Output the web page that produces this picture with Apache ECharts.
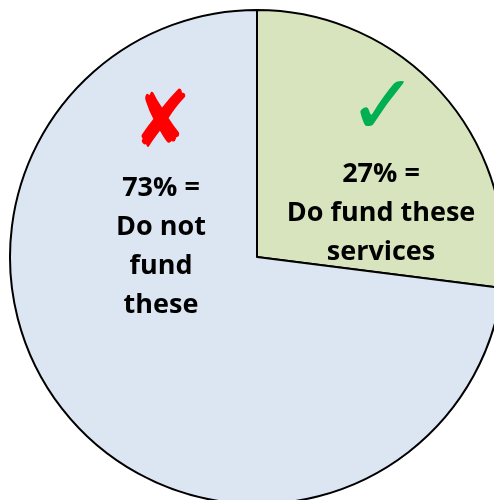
<!DOCTYPE html>
<html>
<head>
<meta charset="utf-8">
<script src="https://cdn.jsdelivr.net/npm/echarts@6/dist/echarts.min.js"></script>
<style>
  html, body { margin: 0; padding: 0; background: #fff; }
  #chart { width: 494px; height: 500px; }
</style>
</head>
<body>
<div id="chart"></div>
<script>
// dados da pizza
const categorias = ["Do fund these services", "Do not fund these"];
const valores = [27, 73];
const cores = ["#D7E4BD", "#DCE5F2"];
const rotulos = ["27% =\nDo fund these\nservices", "73% =\nDo not\nfund\nthese"];
const simbolos = ["\u2713", "\u2718"];

const chart = echarts.init(document.getElementById("chart"));

const fonte = "'Open Sans', 'Liberation Sans', sans-serif";

function texto(x, y, txt, font, cor, lh, sx, sy) {
  return {
    type: "text", x: x, y: y, z: 100,
    scaleX: sx || 1, scaleY: sy || 1,
    style: {
      text: txt, align: "center", verticalAlign: "middle",
      font: font, lineHeight: lh || undefined, fill: cor
    }
  };
}

const option = {
  animation: false,
  backgroundColor: "#ffffff",
  series: [{
    type: "pie",
    center: [257, 257],
    radius: 247,
    startAngle: 90,
    clockwise: true,
    label: { show: false },
    labelLine: { show: false },
    itemStyle: { borderColor: "#000", borderWidth: 2 },
    data: categorias.map((c, i) => ({
      name: c,
      value: valores[i],
      itemStyle: { color: cores[i] }
    }))
  }],
  graphic: {
    elements: [
      texto(381, 213, rotulos[0], "bold 27px " + fonte, "#000", 39),
      texto(161, 247, rotulos[1], "bold 27px " + fonte, "#000", 39),
      texto(383, 112, simbolos[0], "bold 84px 'DejaVu Sans'", "#00B050"),
      texto(162, 126, simbolos[1], "66px 'DejaVu Sans'", "#FF0000", 0, 1.05, 1.2)
    ]
  }
};

chart.setOption(option);
</script>
</body>
</html>
